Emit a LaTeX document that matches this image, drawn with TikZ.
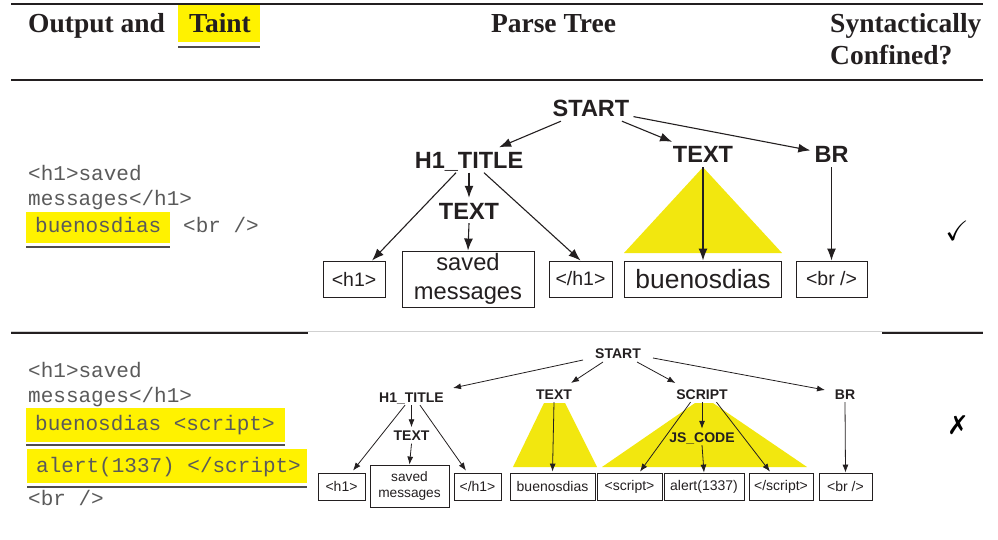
\documentclass[tikz,border=0pt]{standalone}
\usepackage{fontspec}
\usepackage{amssymb}
\setmainfont{Liberation Serif}
\newfontfamily\treefont{Liberation Sans}
\newfontfamily\codefont{Liberation Mono}
\newfontfamily\symfont{DejaVu Sans}
\usetikzlibrary{arrows.meta}
\definecolor{hl}{HTML}{FFF200}
\definecolor{tri}{HTML}{F2E70F}
\definecolor{ink}{HTML}{231F20}
\definecolor{codegray}{HTML}{5A5A5A}
\begin{document}
\begin{tikzpicture}[x=1pt,y=-1pt,
 head/.style={font=\bfseries\fontsize{27.5}{32}\selectfont, text=ink, anchor=base west, inner sep=0pt},
 code/.style={font=\codefont\fontsize{21}{25}\selectfont, text=codegray, anchor=base west, inner sep=0pt},
 ntA/.style={font=\treefont\bfseries\fontsize{23.5}{28}\selectfont, text=ink, text height=17pt, text depth=0pt, inner xsep=4pt, inner ysep=4pt},
 ntB/.style={font=\treefont\bfseries\fontsize{14}{17}\selectfont, text=ink, text height=10pt, text depth=0pt, inner xsep=3pt, inner ysep=3pt},
 leafA/.style={draw=ink, line width=0.9pt, inner sep=0pt, text=ink, font=\treefont\fontsize{19.5}{23}\selectfont},
 leafB/.style={draw=ink, line width=0.8pt, inner sep=0pt, text=ink, font=\treefont\fontsize{14}{16}\selectfont},
 arA/.style={draw=ink, line width=1.1pt, -{Latex[length=12pt,width=9pt]}},
 arB/.style={draw=ink, line width=0.8pt, -{Latex[length=8pt,width=6pt]}},
 rulex/.style={draw=ink, line width=1.3pt},
 ulin/.style={draw=ink!80, line width=1.5pt},
]
\useasboundingbox (0,0) rectangle (998,540);

% ---------- header ----------
\draw[rulex] (11,4) -- (983,4);
\draw[rulex] (11,80) -- (983,80);
\fill[hl] (178,5) rectangle (260,42);
\draw[ulin] (178,47) -- (260,47);
\node[head] (hout) at (28,32.5) {Output and};
\node[head, anchor=base] (htaint) at (220,32.5) {Taint};
\node[head, anchor=base] (hparse) at (553.5,32.5) {Parse Tree};
\node[head] (hsyn) at (830,32.5) {Syntactically};
\node[head] (hconf) at (830,65) {Confined?};

% separator
\draw[black!18, line width=1pt] (11,331.5) -- (983,331.5);
\draw[rulex] (11,333) -- (308,333);
\draw[rulex] (882,333) -- (983,333);

% ---------- row 1 left ----------
\node[code] (c1a) at (28,181) {<h1>saved};
\node[code] (c1b) at (28,205) {messages</h1>};
\fill[hl] (26,212) rectangle (170,243);
\node[code] (c1c) at (35,233) {buenosdias};
\node[code] (c1d) at (183,233) {<br />};
\draw[ulin] (26,247) -- (170,247);

% ---------- row 1 tree ----------
\node[ntA] (start1) at (591,108.5) {START};
\node[ntA] (h1t1) at (469,160) {H1\_TITLE};
\node[ntA] (text1a) at (469,210.5) {TEXT};
\node[ntA] (text1b) at (703,154.5) {TEXT};
\node[ntA] (br1) at (831.5,154.5) {BR};

\fill[tri] (text1b.south) -- (624,253) -- (782,253) -- cycle;

\node[leafA, minimum width=62pt, minimum height=36pt] (h1box1) at (354,279) {<h1>};
\node[leafA, minimum width=132pt, minimum height=56pt, align=center, font=\treefont\fontsize{23.7}{28.5}\selectfont] (saved1) at (468,279) {saved\\messages};
\node[leafA, minimum width=63pt, minimum height=36pt] (eh1box1) at (580.5,279) {</h1>};
\node[leafA, minimum width=157pt, minimum height=36pt, font=\treefont\fontsize{26.4}{30}\selectfont] (buenos1) at (703,279) {buenosdias};
\node[leafA, minimum width=71pt, minimum height=36pt] (brbox1) at (831.5,279) {<br />};

\draw[arA] (start1) -- (h1t1);
\draw[arA] (start1) -- (text1b);
\draw[arA] (start1) -- (br1);
\draw[arA] (h1t1.south) -- (text1a.north);
\draw[arA] ([xshift=-13pt]h1t1.south) -- ([xshift=18pt]h1box1.north);
\draw[arA] ([xshift=15pt]h1t1.south) -- (eh1box1.north);
\draw[arA] (text1a.south) -- (saved1.north);
\draw[arA] (text1b.south) -- (buenos1.north);
\draw[arA] (br1.south) -- (brbox1.north);

\node (ok1) at (957,231) {\fontsize{28}{32}\selectfont$\checkmark$};

% ---------- row 2 left ----------
\node[code] (c2a) at (28,377) {<h1>saved};
\node[code] (c2b) at (28,402) {messages</h1>};
\fill[hl] (26,408) rectangle (285,442);
\node[code] (c2c) at (35,430) {buenosdias <script>};
\draw[ulin] (26,445) -- (285,445);
\fill[hl] (27,449) rectangle (307,483);
\node[code] (c2d) at (36,472) {alert(1337) </script>};
\draw[ulin] (27,487) -- (307,487);
\node[code] (c2e) at (28,505) {<br />};

% ---------- row 2 tree ----------
\fill[tri] (544,403) -- (565,403) -- (597,467) -- (513,467) -- cycle;
\fill[tri] (695,403) -- (713,403) -- (807,467) -- (602,467) -- cycle;

\node[ntB] (start2) at (618,353) {START};
\node[ntB] (h1t2) at (411.5,397) {H1\_TITLE};
\node[ntB] (text2a) at (411.5,435.5) {TEXT};
\node[ntB] (text2b) at (554,394) {TEXT};
\node[ntB] (script2) at (702,394) {SCRIPT};
\node[ntB] (js2) at (702,437) {JS\_CODE};
\node[ntB] (br2) at (845,394) {BR};

\node[leafB, minimum width=47pt, minimum height=27pt] (h1box2) at (341.5,486.5) {<h1>};
\node[leafB, minimum width=79pt, minimum height=42pt, align=center, font=\treefont\fontsize{13.7}{16.5}\selectfont] (saved2) at (409.5,486) {saved\\messages};
\node[leafB, minimum width=47pt, minimum height=27pt] (eh1box2) at (477.5,486.5) {</h1>};
\node[leafB, minimum width=85pt, minimum height=27pt] (buenos2) at (552.5,486.5) {buenosdias};
\node[leafB, minimum width=65pt, minimum height=27pt] (scr2) at (629.5,486.5) {<script>};
\node[leafB, minimum width=80pt, minimum height=27pt] (alert2) at (704,486.5) {alert(1337)};
\node[leafB, minimum width=64pt, minimum height=27pt] (escr2) at (781,486.5) {</script>};
\node[leafB, minimum width=53pt, minimum height=27pt] (brbox2) at (845.5,486.5) {<br />};

\draw[arB] ([xshift=-35pt,yshift=-7pt]start2.center) -- ([xshift=41.5pt,yshift=9pt]h1t2.center);
\draw[arB] ([xshift=-15pt,yshift=-9pt]start2.center) -- ([xshift=17pt,yshift=11pt]text2b.center);
\draw[arB] ([xshift=19pt,yshift=-9pt]start2.center) -- ([xshift=-26.5pt,yshift=11pt]script2.center);
\draw[arB] ([xshift=35pt,yshift=-5pt]start2.center) -- ([xshift=-20pt,yshift=4pt]br2.center);
\draw[arB] ([xshift=-6.5pt]h1t2.south) -- ([xshift=11.5pt,yshift=2pt]h1box2.north);
\draw[arB] (h1t2.south) -- (text2a.north);
\draw[arB] ([xshift=8.5pt]h1t2.south) -- ([xshift=-11.5pt,yshift=2pt]eh1box2.north);
\draw[arB] (text2a.south) -- (saved2.north);
\draw[arB] (text2b.south) -- ([yshift=1pt]buenos2.north);
\draw[arB] ([xshift=-11.5pt]script2.south) -- ([xshift=10.5pt,yshift=1pt]scr2.north);
\draw[arB] (script2.south) -- (js2.north);
\draw[arB] ([xshift=14.5pt]script2.south) -- ([xshift=-11pt,yshift=1pt]escr2.north);
\draw[arB] (js2.south) -- (alert2.north);
\draw[arB] (br2.south) -- (brbox2.north);

\node (no2) at (958,425) {\symfont\fontsize{26}{30}\selectfont ✗};
\end{tikzpicture}
\end{document}
